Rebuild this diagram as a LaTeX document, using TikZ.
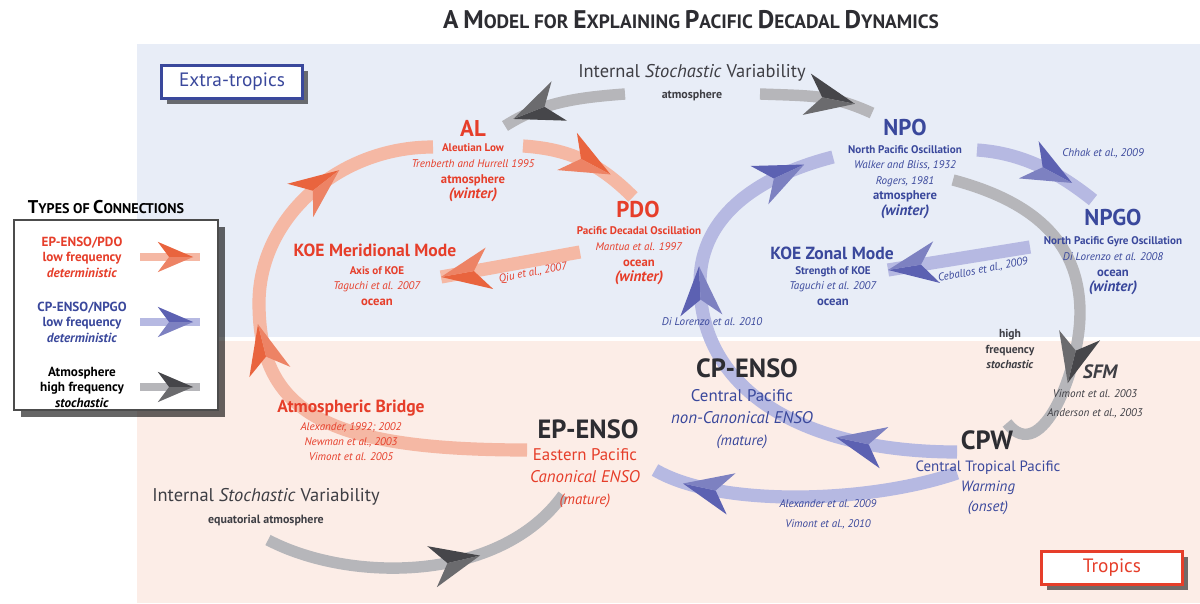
\documentclass[tikz,border=0pt]{standalone}
\usepackage{fontspec}
\setmainfont{PT Sans}
\usetikzlibrary{decorations.markings,shadows}
\definecolor{pacredtext}{RGB}{230,62,42}
\definecolor{pacredhead}{RGB}{233,100,62}
\definecolor{pacredband}{RGB}{245,184,164}
\definecolor{pacbluetext}{RGB}{58,72,156}
\definecolor{pacbluehead}{RGB}{92,97,178}
\definecolor{pacblueband}{RGB}{182,185,226}
\definecolor{pacgraytext}{RGB}{62,62,68}
\definecolor{pacgrayhead}{RGB}{70,70,74}
\definecolor{pacgrayband}{RGB}{182,182,186}
\definecolor{pacdark}{RGB}{45,45,50}
\definecolor{pacnorth}{RGB}{232,237,247}
\definecolor{pacsouth}{RGB}{252,237,231}
\newcommand{\pacdart}[2][1]{%
  \fill[#2,scale=#1] (14pt,0) -- (-14pt,12pt) -- (-5pt,0) -- cycle;
  \fill[#2!80!white,scale=#1] (14pt,0) -- (-5pt,0) -- (-14pt,-12pt) -- cycle;}
\newcommand{\pacsc}[2][14.5]{{\fontsize{#1}{#1}\selectfont #2}}
\newcommand{\pacmid}[1]{{\fontsize{7.2}{8.9}\selectfont\bfseries #1}}
\newcommand{\pacseason}[1]{{\fontsize{8.6}{8.9}\selectfont\bfseries\itshape #1}}
\tikzset{
  pacbase/.style={x=.02cm,y=.02cm,inner sep=1pt},
  redflow/.style={draw=pacredband,line width=7.5pt},
  blueflow/.style={draw=pacblueband,line width=7.5pt},
  grayflow/.style={draw=pacgrayband,line width=6.5pt},
  legflow/.style={line width=5pt},
  dartat/.style 2 args={postaction={decorate,decoration={markings,
    mark=at position #1 with {\pacdart{#2}}}}},
  smalldartat/.style 2 args={postaction={decorate,decoration={markings,
    mark=at position #1 with {\pacdart[.72]{#2}}}}},
  pactitle/.style={font=\fontsize{11}{13}\selectfont\bfseries,text=pacdark},
  regionbox/.style={line width=1.3pt,fill=white,minimum width=2.82cm,
    minimum height=.66cm,font=\fontsize{11}{13}\selectfont,
    drop shadow={shadow xshift=3pt,shadow yshift=-3pt,fill=black,opacity=.55}},
  legendtitle/.style={font=\fontsize{8}{10}\selectfont\bfseries,text=black},
  legendframe/.style={draw=black!70,line width=1pt,fill=white,minimum width=4.08cm,
    minimum height=3.8cm,
    drop shadow={shadow xshift=4pt,shadow yshift=-4pt,fill=black,opacity=.6}},
  legtext/.style={align=center,font=\fontsize{7.5}{8.8}\selectfont\bfseries},
  bighead/.style={font=\fontsize{13}{15}\selectfont\bfseries},
  ensohead/.style={font=\fontsize{15}{17}\selectfont\bfseries,text=pacdark},
  modehead/.style={font=\fontsize{10}{12}\selectfont\bfseries},
  subtext/.style={align=center,font=\fontsize{6.3}{8.9}\selectfont},
  ensotext/.style={align=center,font=\fontsize{9.6}{12.5}\selectfont},
  refnote/.style={align=center,font=\fontsize{6.3}{8.6}\selectfont\itshape},
  stochhead/.style={font=\fontsize{10.5}{12}\selectfont,text=pacgraytext},
  stochsub/.style={font=\fontsize{6.8}{8}\selectfont\bfseries,text=pacgraytext}
}
\begin{document}
\begin{tikzpicture}[pacbase]
\useasboundingbox (0,0) rectangle (1200,603);
\fill[white] (0,0) rectangle (1200,603);
% regions
\fill[pacnorth] (137,266) rectangle (1200,559);
\fill[pacsouth] (137,0) rectangle (1200,262);
\node[pactitle] (title) at (691,583) {\pacsc{A} \pacsc{M}ODEL FOR \pacsc{E}XPLAINING \pacsc{P}ACIFIC \pacsc{D}ECADAL \pacsc{D}YNAMICS};
\node[regionbox,draw=pacbluetext,text=pacbluetext] (extra) at (232,521) {Extra-tropics};
\node[regionbox,draw=pacredtext,text=pacredtext] (tropics) at (1112,35) {Tropics};
% legend
\node[legendtitle] (types) at (106,396) {\pacsc[10.5]{T}YPES OF \pacsc[10.5]{C}ONNECTIONS};
\node[legendframe] (legend) at (116,288) {};
\node[legtext,text=pacredtext] (lg-red) at (82,346) {EP-ENSO/PDO\\low frequency\\\textit{deterministic}};
\node[legtext,text=pacbluetext] (lg-blue) at (82,281) {CP-ENSO/NPGO\\low frequency\\\textit{deterministic}};
\node[legtext,text=black] (lg-gray) at (82,216) {Atmosphere\\high frequency\\\textit{stochastic}};
\coordinate (lg-red-w) at (140,346);  \coordinate (lg-red-e) at (200,346);
\coordinate (lg-blue-w) at (140,281); \coordinate (lg-blue-e) at (200,281);
\coordinate (lg-gray-w) at (140,216); \coordinate (lg-gray-e) at (200,216);
\draw[legflow,draw=pacredband,smalldartat={-14pt}{pacredhead}] (lg-red-w) -- (lg-red-e);
\draw[legflow,draw=pacblueband,smalldartat={-14pt}{pacbluehead}] (lg-blue-w) -- (lg-blue-e);
\draw[legflow,draw=pacgrayband,smalldartat={-14pt}{pacgrayhead}] (lg-gray-w) -- (lg-gray-e);
% flow ends
\coordinate (ep-w) at (527,153);
\coordinate (bridge-w) at (259,300);
\coordinate (al-w) at (433,456);
\coordinate (al-e) at (523,457);
\coordinate (pdo-n) at (633,406);
\coordinate (pdo-w) at (580,351);
\coordinate (koem-e) at (441,326);
\coordinate (cpw-w) at (957,151);
\coordinate (loop-w) at (700,320);
\coordinate (npo-w) at (833,446);
\coordinate (cpw-sw) at (957,130);
\coordinate (ep-e) at (655,133);
\coordinate (npo-e) at (977,453);
\coordinate (npgo-n) at (1093,403);
\coordinate (npgo-w) at (1030,356);
\coordinate (koez-e) at (888,333);
\coordinate (stoch-w) at (625,509);
\coordinate (al-ne) at (505,477);
\coordinate (stoch-e) at (760,509);
\coordinate (npo-nw) at (872,490);
\coordinate (npo-se) at (953,423);
\coordinate (sfm-n) at (1080,290);
\coordinate (cpw-ne) at (1007,180);
\coordinate (stoch-s) at (268,63);
\coordinate (ep-sw) at (563,108);
% red connections
\draw[redflow,dartat={.5}{pacredhead},dartat={.8}{pacredhead}] (ep-w) .. controls +(-200,0) and +(0,-110) .. (bridge-w) .. controls +(0,85) and +(-95,0) .. (al-w);
\draw[redflow,dartat={.55}{pacredhead}] (al-e) .. controls +(45,-3) and +(-35,35) .. (pdo-n);
\draw[redflow,dartat={-14pt}{pacredhead}] (pdo-w) -- (koem-e);
% blue connections
\draw[blueflow,dartat={.18}{pacbluehead},dartat={.62}{pacbluehead},dartat={.9}{pacbluehead}] (cpw-w) .. controls +(-150,0) and +(0,-110) .. (loop-w) .. controls +(0,70) and +(-70,-18) .. (npo-w);
\draw[blueflow,dartat={.82}{pacbluehead}] (cpw-sw) .. controls +(-87,-30) and +(65,-38) .. (ep-e);
\draw[blueflow,dartat={.6}{pacbluehead}] (npo-e) .. controls +(45,-3) and +(-35,28) .. (npgo-n);
\draw[blueflow,dartat={-14pt}{pacbluehead}] (npgo-w) -- (koez-e);
% stochastic connections
\draw[grayflow,dartat={.72}{pacgrayhead}] (stoch-w) .. controls +(-55,-4) and +(35,22) .. (al-ne);
\draw[grayflow,dartat={.62}{pacgrayhead}] (stoch-e) .. controls +(55,-2) and +(-40,18) .. (npo-nw);
\draw[grayflow,dartat={.68}{pacgrayhead}] (npo-se) .. controls +(75,-20) and +(0,75) .. (sfm-n) .. controls +(0,-55) and +(35,-45) .. (cpw-ne);
\draw[grayflow,dartat={.6}{pacgrayhead}] (stoch-s) .. controls +(82,-43) and +(-63,-88) .. (ep-sw);
% labels
\node[stochhead] (stoch-top) at (692,530) {Internal \textit{Stochastic} Variability};
\node[stochsub] (stoch-top-sub) at (692,507) {atmosphere};
\node[bighead,text=pacredtext] (al) at (473,475) {AL};
\node[subtext,text=pacredtext] (al-sub) at (473,430) {\textbf{Aleutian Low}\\\textit{Trenberth and Hurrell 1995}\\\pacmid{atmosphere}\\\pacseason{(winter)}};
\node[bighead,text=pacredtext] (pdo) at (638,393) {PDO};
\node[subtext,text=pacredtext] (pdo-sub) at (639,347) {\textbf{Pacific Decadal Oscillation}\\\textit{Mantua et al. 1997}\\\pacmid{ocean}\\\pacseason{(winter)}};
\node[modehead,text=pacredtext] (koem) at (375,353) {KOE Meridional Mode};
\node[subtext,text=pacredtext] (koem-sub) at (377,317) {\textbf{Axis of KOE}\\\textit{Taguchi et al. 2007}\\\pacmid{ocean}};
\node[refnote,text=pacredtext,rotate=11] (qiu) at (533,330) {Qiu et al., 2007};
\node[bighead,text=pacbluetext] (npo) at (905,475) {NPO};
\node[subtext,text=pacbluetext] (npo-sub) at (905,421) {\textbf{North Pacific Oscillation}\\\textit{Walker and Bliss, 1932}\\\textit{Rogers, 1981}\\\pacmid{atmosphere}\\\pacseason{(winter)}};
\node[refnote,text=pacbluetext] (chhak) at (1103,450) {Chhak et al., 2009};
\node[bighead,text=pacbluetext] (npgo) at (1113,385) {NPGO};
\node[subtext,text=pacbluetext] (npgo-sub) at (1113,337) {\textbf{North Pacific Gyre Oscillation}\\\textit{Di Lorenzo et al. 2008}\\\pacmid{ocean}\\\pacseason{(winter)}};
\node[modehead,text=pacbluetext] (koez) at (832,350) {KOE Zonal Mode};
\node[subtext,text=pacbluetext] (koez-sub) at (833,317) {\textbf{Strength of KOE}\\\textit{Taguchi et al. 2007}\\\pacmid{ocean}};
\node[refnote,text=pacbluetext,rotate=11] (ceballos) at (983,333) {Ceballos et al., 2009};
\node[refnote,text=pacbluetext] (dilorenzo) at (712,281) {Di Lorenzo et al. 2010};
\node[subtext,text=pacgraytext,font=\fontsize{6.6}{9}\selectfont\bfseries] (hfs) at (1010,254) {high\\frequency\\\textit{stochastic}};
\node[text=pacgraytext,font=\fontsize{11}{13}\selectfont\bfseries\itshape] (sfm) at (1100,231) {SFM};
\node[refnote,text=pacgraytext,font=\fontsize{6.3}{10.5}\selectfont\itshape] (sfm-sub) at (1095,199) {Vimont et al. 2003\\Anderson et al., 2003};
\node[ensohead] (cpenso) at (747,235) {CP-ENSO};
\node[ensotext,text=pacbluetext] (cpenso-sub) at (742,184) {Central Pacific\\\textit{non-Canonical ENSO}\\{\fontsize{8.5}{12.5}\selectfont\itshape (mature)}};
\node[ensohead] (cpw) at (987,163) {CPW};
\node[ensotext,text=pacbluetext,font=\fontsize{8.5}{11.5}\selectfont] (cpw-sub) at (988,115) {Central Tropical Pacific\\\textit{Warming}\\\textit{(onset)}};
\node[refnote,text=pacbluetext,font=\fontsize{6.3}{11.5}\selectfont\itshape] (alex09) at (828,89) {Alexander et al. 2009\\Vimont et al., 2010};
\node[ensohead] (epenso) at (588,174) {EP-ENSO};
\node[ensotext,text=pacredtext] (epenso-sub) at (585,125) {Eastern Pacific\\\textit{Canonical ENSO}\\{\fontsize{8.5}{12.5}\selectfont\itshape (mature)}};
\node[modehead,text=pacredtext] (bridge) at (351,195) {Atmospheric Bridge};
\node[refnote,text=pacredtext] (bridge-sub) at (351,161) {Alexander, 1992; 2002\\Newman et al., 2003\\Vimont et al. 2005};
\node[stochhead] (stoch-bot) at (266,106) {Internal \textit{Stochastic} Variability};
\node[stochsub] (stoch-bot-sub) at (266,83) {equatorial atmosphere};
\end{tikzpicture}
\end{document}
